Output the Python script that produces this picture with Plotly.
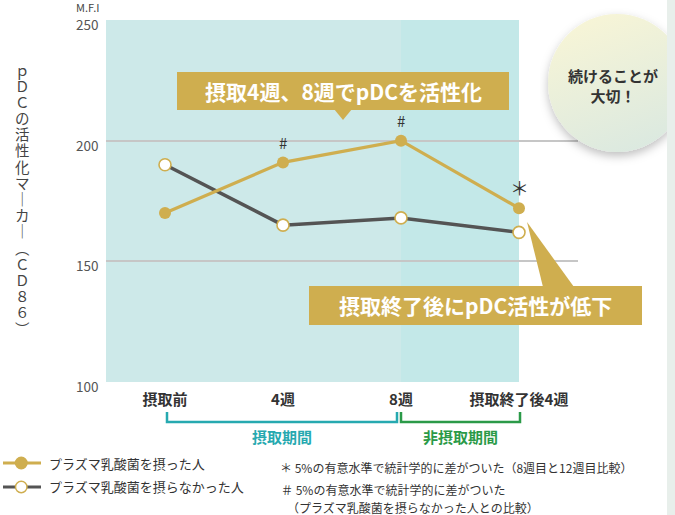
import base64
import plotly.graph_objects as go

# ---------------- data ----------------
categories = ["摂取前", "4週", "8週", "摂取終了後4週"]
taken = [170, 191, 200, 172]          # プラズマ乳酸菌を摂った人
not_taken = [190, 165, 168, 162]      # プラズマ乳酸菌を摂らなかった人
y_ticks = [100, 150, 200, 250]
marks = ["#", "#", "＊"]              # significance marks
mark_idx = [1, 2, 3]

GOLD = "#cfae4f"
GRAY = "#545454"
TEAL = "#26a9b0"
GREEN = "#2b9a48"
FONT = "Noto Sans CJK JP"

W, H = 675, 515
L, R, T, B = 106, 578, 20, 382


def fx(px):
    return (px - L) / (R - L)


def fy(py):
    return (B - py) / (B - T)


fig = go.Figure()
fig.add_trace(go.Scatter(
    x=categories, y=not_taken, mode="lines+markers", name="プラズマ乳酸菌を摂らなかった人",
    line=dict(color=GRAY, width=3.5),
    marker=dict(size=12, color="white", line=dict(color=GOLD, width=1.6)),
    showlegend=False, cliponaxis=False))
fig.add_trace(go.Scatter(
    x=categories, y=taken, mode="lines+markers", name="プラズマ乳酸菌を摂った人",
    line=dict(color=GOLD, width=3.2),
    marker=dict(size=12, color=GOLD),
    showlegend=False, cliponaxis=False))

shapes = []
# shaded periods
shapes.append(dict(type="rect", xref="x", yref="y", x0=-0.5, x1=2, y0=100, y1=250,
                   fillcolor="#cde9e9", line=dict(width=0), layer="below"))
shapes.append(dict(type="rect", xref="x", yref="y", x0=2, x1=3, y0=100, y1=250,
                   fillcolor="#c3e8e8", line=dict(width=0), layer="below"))

# callout 1
shapes.append(dict(type="rect", xref="paper", yref="paper", x0=fx(177), x1=fx(509),
                   y0=fy(110), y1=fy(72), fillcolor=GOLD, line=dict(width=0), layer="above"))
shapes.append(dict(type="path", xref="paper", yref="paper",
                   path=f"M {fx(334)} {fy(109)} L {fx(352)} {fy(109)} L {fx(343)} {fy(120)} Z",
                   fillcolor=GOLD, line=dict(width=0), layer="above"))
# callout 2
shapes.append(dict(type="rect", xref="paper", yref="paper", x0=fx(309), x1=fx(642),
                   y0=fy(325), y1=fy(286), fillcolor=GOLD, line=dict(width=0), layer="above"))
shapes.append(dict(type="path", xref="paper", yref="paper",
                   path=f"M {fx(527)} {fy(222)} L {fx(574)} {fy(287)} L {fx(543)} {fy(287)} Z",
                   fillcolor=GOLD, line=dict(width=0), layer="above"))

# period brackets
shapes.append(dict(type="path", xref="paper", yref="paper",
                   path=f"M {fx(167)} {fy(412)} L {fx(167)} {fy(422)} L {fx(397)} {fy(422)} L {fx(397)} {fy(412)}",
                   line=dict(color=TEAL, width=2.5)))
shapes.append(dict(type="path", xref="paper", yref="paper",
                   path=f"M {fx(401)} {fy(412)} L {fx(401)} {fy(422)} L {fx(520)} {fy(422)} L {fx(520)} {fy(412)}",
                   line=dict(color=GREEN, width=2.5)))

# custom legend
for i, yy in enumerate([463, 487]):
    col = GOLD if i == 0 else GRAY
    shapes.append(dict(type="line", xref="paper", yref="paper", x0=fx(3), x1=fx(41),
                       y0=fy(yy), y1=fy(yy), line=dict(color=col, width=3)))
    shapes.append(dict(type="circle", xref="paper", yref="paper", x0=fx(15.5), x1=fx(27),
                       y0=fy(yy + 5.75), y1=fy(yy - 5.75),
                       fillcolor=GOLD if i == 0 else "white",
                       line=dict(color=GOLD, width=1.5)))

# right strip
shapes.append(dict(type="rect", xref="paper", yref="paper", x0=fx(667), x1=fx(676),
                   y0=fy(516), y1=fy(-1), fillcolor="#e8efeb", line=dict(width=0), layer="above"))

annotations = []


def ann(x, y, text, size, color="#333", xanchor="center", **kw):
    annotations.append(dict(xref="paper", yref="paper", x=fx(x), y=fy(y), text=text,
                            showarrow=False, xanchor=xanchor, yanchor="middle",
                            font=dict(family=FONT, size=size, color=color), **kw))


# y tick labels (sit slightly below their gridlines, as in the original)
for v in y_ticks:
    annotations.append(dict(xref="paper", yref="y", x=fx(100), y=v, text=str(v), showarrow=False,
                            xanchor="right", yanchor="middle", yshift=-4,
                            font=dict(family=FONT, size=13.5, color="#555")))

# significance marks
for m, i in zip(marks, mark_idx):
    annotations.append(dict(xref="x", yref="y", x=categories[i], y=taken[i], text=m,
                            showarrow=False, yshift=20 if m == "#" else 21,
                            xanchor="center", yanchor="middle",
                            font=dict(family=FONT, size=15 if m == "#" else 19, color="#333")))

ann(343, 91, "<b>摂取4週、8週でpDCを活性化</b>", 21, "white")
ann(475, 305, "<b>摂取終了後にpDC活性が低下</b>", 21, "white")

# vertical y title (stacked characters)
title_chars = ["ｐ", "Ｄ", "Ｃ", "の", "活", "性", "化", "マ", "｜", "カ", "｜", "︵", "Ｃ", "Ｄ", "８", "６", "︶"]
n = len(title_chars)
for k, ch in enumerate(title_chars):
    yy = 69 + k * (328 - 69) / (n - 1)
    ann(22, yy, ch, 14.5, "#444")

ann(101, 7, "M.F.I", 11, "#444", xanchor="right")

ann(282, 436, "<b>摂取期間</b>", 15, TEAL)
ann(460, 436, "<b>非摂取期間</b>", 15, GREEN)

ann(47, 463, "プラズマ乳酸菌を摂った人", 13, xanchor="left")
ann(47, 487, "プラズマ乳酸菌を摂らなかった人", 13, xanchor="left")

ann(278, 467, "＊ 5%の有意水準で統計学的に差がついた（8週目と12週目比較）", 12, xanchor="left")
ann(279, 489, "＃ 5%の有意水準で統計学的に差がついた", 12, xanchor="left")
ann(285, 507, "（プラズマ乳酸菌を摂らなかった人との比較）", 12, xanchor="left")

ann(613, 86, "<b>続けることが<br>大切！</b>", 15)

# circle badge (decorative image)
svg = ('<svg xmlns="http://www.w3.org/2000/svg" width="127" height="170" viewBox="0 0 127 170" '
       'preserveAspectRatio="none"><defs>'
       '<linearGradient id="g" x1="0.25" y1="0" x2="0.65" y2="1">'
       '<stop offset="0" stop-color="#f8f5d6"/><stop offset="1" stop-color="#dbe9e0"/></linearGradient>'
       '<filter id="s" x="-30%" y="-30%" width="160%" height="160%">'
       '<feDropShadow dx="0" dy="4" stdDeviation="5" flood-color="#000" flood-opacity="0.25"/></filter>'
       '</defs><circle cx="77" cy="80" r="69" fill="url(#g)" filter="url(#s)"/></svg>')
src = "data:image/svg+xml;base64," + base64.b64encode(svg.encode()).decode()

fig.update_layout(
    width=W, height=H,
    margin=dict(l=L, r=W - R, t=T, b=H - B, pad=0),
    paper_bgcolor="white", plot_bgcolor="white",
    shapes=shapes, annotations=annotations,
    images=[dict(source=src, xref="paper", yref="paper", x=fx(540), y=fy(3),
                 sizex=fx(667) - fx(540), sizey=170 / (B - T), sizing="stretch",
                 xanchor="left", yanchor="top", layer="above")],
    font=dict(family=FONT),
)
fig.update_xaxes(range=[-0.5, 3.5], showgrid=False, zeroline=False, showline=False,
                 tickmode="array", tickvals=list(range(len(categories))),
                 ticktext=[f"<b>{c}</b>" for c in categories], ticks="",
                 tickfont=dict(family=FONT, size=15, color="#333"), ticklabelstandoff=7)
fig.update_yaxes(range=[100, 250], tickvals=y_ticks, showgrid=True, gridcolor="#c6c6c6", gridwidth=2,
                 zeroline=False, showline=False, ticks="", showticklabels=False)

fig.write_html("out.html", config={"displayModeBar": False},
               post_script="document.body.style.margin='0';document.body.style.overflow='hidden';")
